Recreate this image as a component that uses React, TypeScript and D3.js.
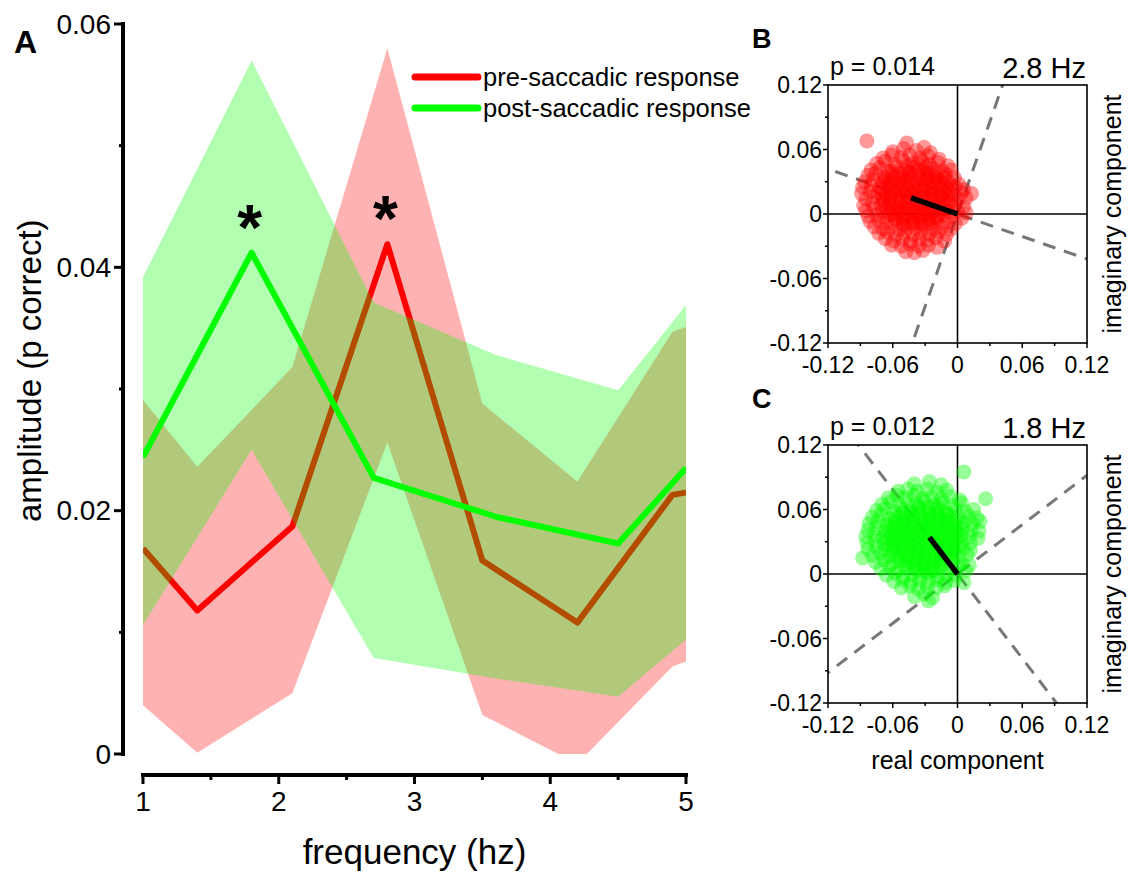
import React from "react";
import * as d3 from "d3";

// ---- panel A: amplitude spectra ----
const redFreq = [1.0, 1.4, 2.1, 2.8, 3.5, 4.2, 4.9, 5.0];
const redMean = [0.0169, 0.0118, 0.0187, 0.0419, 0.0159, 0.0108, 0.0213, 0.0215];
const redUpper = [0.0291, 0.0236, 0.0318, 0.058, 0.0288, 0.0224, 0.0347, 0.0351];
const redLower = [0.004, 0.0001, 0.005, 0.0256, 0.0032, -0.0008, 0.0072, 0.0076];

const greenFreq = [1.0, 1.8, 2.7, 3.6, 4.5, 5.0];
const greenMean = [0.0244, 0.0412, 0.0227, 0.0195, 0.0173, 0.0235];
const greenUpper = [0.0392, 0.057, 0.0371, 0.0328, 0.0299, 0.0369];
const greenLower = [0.0106, 0.025, 0.0079, 0.0062, 0.0047, 0.0094];

const ampTicks = [0, 0.02, 0.04, 0.06];
const ampMinor = [0.01, 0.03, 0.05];
const freqTicks = [1, 2, 3, 4, 5];
const freqMinor = [1.5, 2.5, 3.5, 4.5];
const starFreqs = [1.8, 2.8];
const legendLabels = ["pre-saccadic response", "post-saccadic response"];

// ---- panels B and C: complex plane ----
const cTicks = [-0.12, -0.06, 0, 0.06, 0.12];
const cMinor = [-0.09, -0.03, 0.03, 0.09];

const redMeanVector = [-0.043, 0.015];
const greenMeanVector = [-0.026, 0.034];

const redCloud = [
  [-0.084,0.068],[-0.047,0.066],[-0.031,0.062],
  [-0.060,0.058],[-0.050,0.061],[-0.038,0.059],[-0.025,0.057],
  [-0.069,0.052],[-0.061,0.055],[-0.052,0.053],[-0.044,0.055],[-0.035,0.052],[-0.027,0.054],[-0.017,0.051],
  [-0.075,0.047],[-0.067,0.049],[-0.058,0.046],[-0.050,0.049],[-0.042,0.047],[-0.033,0.049],[-0.026,0.046],[-0.018,0.048],[-0.009,0.045],
  [-0.080,0.041],[-0.072,0.043],[-0.064,0.040],[-0.057,0.043],[-0.048,0.041],[-0.040,0.043],[-0.031,0.040],[-0.023,0.042],[-0.014,0.040],[-0.006,0.041],
  [-0.083,0.036],[-0.076,0.038],[-0.068,0.035],[-0.060,0.037],[-0.051,0.035],[-0.044,0.038],[-0.036,0.036],[-0.028,0.037],[-0.020,0.035],[-0.011,0.037],[-0.003,0.034],
  [-0.086,0.030],[-0.078,0.032],[-0.070,0.030],[-0.063,0.031],[-0.055,0.029],[-0.047,0.032],[-0.039,0.030],[-0.031,0.032],[-0.024,0.029],[-0.016,0.031],[-0.008,0.030],[0.001,0.028],
  [-0.088,0.025],[-0.080,0.027],[-0.072,0.024],[-0.064,0.026],[-0.057,0.025],[-0.049,0.027],[-0.041,0.024],[-0.033,0.026],[-0.025,0.025],[-0.018,0.027],[-0.010,0.024],[-0.002,0.025],[0.006,0.023],
  [-0.089,0.019],[-0.081,0.021],[-0.074,0.020],[-0.066,0.018],[-0.058,0.021],[-0.050,0.019],[-0.043,0.020],[-0.035,0.018],[-0.027,0.021],[-0.020,0.019],[-0.012,0.020],[-0.004,0.018],[0.004,0.020],[0.013,0.019],
  [-0.085,0.014],[-0.077,0.016],[-0.069,0.013],[-0.062,0.015],[-0.054,0.014],[-0.046,0.016],[-0.038,0.013],[-0.031,0.015],[-0.023,0.014],[-0.015,0.016],[-0.007,0.013],[0.001,0.014],[0.008,0.015],
  [-0.087,0.008],[-0.079,0.010],[-0.071,0.008],[-0.064,0.009],[-0.056,0.007],[-0.048,0.010],[-0.041,0.008],[-0.033,0.009],[-0.025,0.007],[-0.017,0.010],[-0.010,0.008],[-0.002,0.009],[0.006,0.007],
  [-0.085,0.003],[-0.077,0.005],[-0.070,0.002],[-0.062,0.004],[-0.054,0.003],[-0.047,0.005],[-0.039,0.002],[-0.031,0.004],[-0.023,0.003],[-0.016,0.005],[-0.008,0.002],[0.000,0.003],[0.008,0.001],
  [-0.083,-0.002],[-0.075,-0.001],[-0.068,-0.003],[-0.060,-0.001],[-0.052,-0.003],[-0.044,-0.001],[-0.037,-0.002],[-0.029,0.000],[-0.021,-0.003],[-0.013,-0.001],[-0.005,-0.002],[0.004,-0.004],
  [-0.081,-0.007],[-0.073,-0.006],[-0.065,-0.008],[-0.057,-0.006],[-0.050,-0.009],[-0.042,-0.007],[-0.034,-0.008],[-0.026,-0.006],[-0.018,-0.008],[-0.010,-0.007],[-0.002,-0.009],
  [-0.077,-0.012],[-0.069,-0.014],[-0.061,-0.012],[-0.053,-0.014],[-0.046,-0.012],[-0.038,-0.013],[-0.030,-0.011],[-0.022,-0.014],[-0.014,-0.012],[-0.006,-0.014],
  [-0.073,-0.018],[-0.065,-0.017],[-0.057,-0.019],[-0.049,-0.017],[-0.041,-0.019],[-0.034,-0.017],[-0.026,-0.019],[-0.018,-0.017],[-0.010,-0.019],
  [-0.067,-0.023],[-0.059,-0.025],[-0.051,-0.023],[-0.043,-0.025],[-0.035,-0.023],[-0.028,-0.024],[-0.020,-0.022],[-0.012,-0.025],
  [-0.061,-0.029],[-0.052,-0.030],[-0.044,-0.028],[-0.036,-0.030],[-0.027,-0.029],[-0.019,-0.031],
  [-0.048,-0.035],[-0.040,-0.036],[-0.032,-0.034],
  [-0.046,0.045],[-0.037,0.046],[-0.029,0.044],
  [-0.061,0.040],[-0.053,0.038],[-0.045,0.039],[-0.036,0.040],[-0.027,0.039],[-0.019,0.038],
  [-0.066,0.033],[-0.058,0.034],[-0.050,0.033],[-0.043,0.034],[-0.034,0.033],[-0.027,0.034],[-0.019,0.033],[-0.012,0.034],
  [-0.068,0.028],[-0.061,0.029],[-0.053,0.028],[-0.045,0.029],[-0.037,0.028],[-0.029,0.028],[-0.021,0.029],[-0.013,0.028],[-0.006,0.027],
  [-0.070,0.022],[-0.062,0.023],[-0.054,0.022],[-0.046,0.023],[-0.039,0.022],[-0.031,0.023],[-0.023,0.022],[-0.016,0.023],[-0.008,0.022],
  [-0.070,0.017],[-0.062,0.017],[-0.055,0.018],[-0.047,0.017],[-0.040,0.018],[-0.032,0.017],[-0.024,0.018],[-0.016,0.017],[-0.009,0.018],
  [-0.068,0.011],[-0.061,0.012],[-0.053,0.011],[-0.045,0.012],[-0.037,0.011],[-0.029,0.012],[-0.021,0.011],[-0.013,0.012],[-0.006,0.011],
  [-0.066,0.006],[-0.058,0.005],[-0.050,0.006],[-0.043,0.005],[-0.035,0.006],[-0.027,0.005],[-0.020,0.006],[-0.012,0.005],
  [-0.063,0.000],[-0.055,0.001],[-0.048,0.000],[-0.040,0.001],[-0.032,0.000],[-0.025,0.001],[-0.017,0.000],
  [-0.058,-0.005],[-0.050,-0.004],[-0.042,-0.005],[-0.035,-0.004],[-0.027,-0.005],[-0.019,-0.004],
  [-0.050,-0.010],[-0.041,-0.009],[-0.033,-0.010],[-0.025,-0.009],
];

const greenCloud = [
  [0.006,0.095],[-0.040,0.084],[-0.026,0.086],[-0.015,0.083],
  [-0.055,0.077],[-0.046,0.079],[-0.037,0.077],[-0.028,0.079],[-0.019,0.076],[-0.010,0.078],
  [-0.064,0.071],[-0.056,0.073],[-0.048,0.071],[-0.040,0.073],[-0.032,0.070],[-0.024,0.072],[-0.015,0.070],[-0.007,0.072],[0.002,0.069],
  [-0.070,0.065],[-0.062,0.067],[-0.054,0.064],[-0.046,0.066],[-0.038,0.065],[-0.030,0.067],[-0.022,0.064],[-0.014,0.066],[-0.005,0.064],[0.004,0.066],[0.026,0.070],
  [-0.075,0.059],[-0.067,0.061],[-0.059,0.058],[-0.051,0.060],[-0.043,0.059],[-0.035,0.061],[-0.027,0.058],[-0.019,0.060],[-0.011,0.058],[-0.002,0.060],[0.007,0.058],[0.015,0.060],
  [-0.079,0.053],[-0.071,0.055],[-0.063,0.052],[-0.055,0.054],[-0.047,0.053],[-0.039,0.055],[-0.031,0.052],[-0.023,0.054],[-0.015,0.052],[-0.007,0.055],[0.001,0.053],[0.010,0.054],[0.018,0.052],
  [-0.082,0.047],[-0.074,0.049],[-0.066,0.046],[-0.058,0.048],[-0.050,0.047],[-0.042,0.049],[-0.034,0.046],[-0.026,0.048],[-0.018,0.047],[-0.010,0.049],[-0.002,0.046],[0.006,0.048],[0.014,0.047],[0.021,0.049],
  [-0.083,0.041],[-0.075,0.043],[-0.067,0.040],[-0.059,0.042],[-0.051,0.041],[-0.043,0.043],[-0.035,0.040],[-0.027,0.042],[-0.019,0.041],[-0.011,0.043],[-0.003,0.040],[0.005,0.042],[0.013,0.041],[0.020,0.040],
  [-0.085,0.035],[-0.077,0.037],[-0.069,0.034],[-0.061,0.036],[-0.053,0.035],[-0.045,0.037],[-0.037,0.034],[-0.029,0.036],[-0.021,0.035],[-0.013,0.037],[-0.005,0.034],[0.003,0.036],[0.011,0.035],[0.019,0.033],
  [-0.084,0.029],[-0.076,0.031],[-0.068,0.028],[-0.060,0.030],[-0.052,0.029],[-0.044,0.031],[-0.036,0.028],[-0.028,0.030],[-0.020,0.029],[-0.012,0.031],[-0.004,0.028],[0.004,0.030],[0.012,0.029],
  [-0.083,0.023],[-0.075,0.025],[-0.067,0.022],[-0.059,0.024],[-0.051,0.023],[-0.043,0.025],[-0.035,0.022],[-0.027,0.024],[-0.019,0.023],[-0.011,0.025],[-0.003,0.022],[0.005,0.024],[0.012,0.022],
  [-0.088,0.015],[-0.079,0.017],[-0.071,0.019],[-0.063,0.016],[-0.055,0.018],[-0.047,0.017],[-0.039,0.019],[-0.031,0.016],[-0.023,0.018],[-0.015,0.017],[-0.007,0.019],[0.001,0.016],[0.009,0.018],
  [-0.076,0.011],[-0.068,0.013],[-0.060,0.010],[-0.052,0.012],[-0.044,0.011],[-0.036,0.013],[-0.028,0.010],[-0.020,0.012],[-0.012,0.011],[-0.004,0.013],[0.004,0.010],[0.011,0.008],
  [-0.071,0.005],[-0.063,0.007],[-0.055,0.004],[-0.047,0.006],[-0.039,0.005],[-0.031,0.007],[-0.023,0.004],[-0.015,0.006],[-0.007,0.005],[0.001,0.007],[0.008,0.003],
  [-0.066,-0.001],[-0.058,0.001],[-0.050,-0.002],[-0.042,0.000],[-0.034,-0.001],[-0.026,0.001],[-0.018,-0.002],[-0.010,0.000],[-0.002,-0.001],[0.006,-0.008],
  [-0.059,-0.007],[-0.051,-0.005],[-0.043,-0.008],[-0.035,-0.006],[-0.027,-0.007],[-0.019,-0.005],[-0.011,-0.008],[-0.003,-0.006],
  [-0.052,-0.013],[-0.044,-0.011],[-0.036,-0.014],[-0.028,-0.012],[-0.020,-0.013],[-0.012,-0.011],
  [-0.040,-0.021],[-0.031,-0.019],[-0.023,-0.022],[-0.027,-0.025],
  [-0.036,0.063],[-0.027,0.062],[-0.018,0.063],
  [-0.051,0.057],[-0.043,0.056],[-0.035,0.057],[-0.026,0.056],[-0.018,0.057],[-0.010,0.056],
  [-0.058,0.051],[-0.050,0.050],[-0.042,0.051],[-0.034,0.050],[-0.026,0.051],[-0.018,0.050],[-0.010,0.051],[-0.003,0.050],
  [-0.062,0.045],[-0.054,0.044],[-0.046,0.045],[-0.038,0.044],[-0.030,0.045],[-0.022,0.044],[-0.014,0.045],[-0.006,0.044],[0.001,0.045],
  [-0.064,0.039],[-0.056,0.038],[-0.048,0.039],[-0.040,0.038],[-0.032,0.039],[-0.024,0.038],[-0.016,0.039],[-0.008,0.038],[0.000,0.039],
  [-0.065,0.033],[-0.057,0.032],[-0.049,0.033],[-0.041,0.032],[-0.033,0.033],[-0.025,0.032],[-0.017,0.033],[-0.009,0.032],[-0.001,0.033],
  [-0.063,0.027],[-0.055,0.026],[-0.047,0.027],[-0.039,0.026],[-0.031,0.027],[-0.023,0.026],[-0.015,0.027],[-0.007,0.026],[0.001,0.027],
  [-0.060,0.021],[-0.052,0.020],[-0.044,0.021],[-0.036,0.020],[-0.028,0.021],[-0.020,0.020],[-0.012,0.021],[-0.004,0.020],
  [-0.055,0.015],[-0.047,0.014],[-0.039,0.015],[-0.031,0.014],[-0.023,0.015],[-0.015,0.014],[-0.007,0.015],
  [-0.048,0.009],[-0.040,0.008],[-0.032,0.009],[-0.024,0.008],[-0.016,0.009],
  [-0.037,0.003],[-0.029,0.002],[-0.021,0.003],
];

const FONT = "'Liberation Sans', Arial, Helvetica, sans-serif";

const fmt = (v: number) => (v === 0 ? "0" : v.toFixed(2));

function PolarPanel({ top, cloud, color, mean, pLabel, hzLabel, letter, showReal }: any) {
  const sx = d3.scaleLinear().domain([-0.12, 0.12]).range([828, 1087]);
  const sy = d3.scaleLinear().domain([-0.12, 0.12]).range([top + 258, top]);
  const ang = Math.atan2(mean[1], mean[0]);
  const c = Math.cos(ang);
  const s = Math.sin(ang);
  const R = 0.3;
  const clipId = "clip-" + letter;
  const x0 = sx(-0.12), x1 = sx(0.12), y0 = sy(0.12), y1 = sy(-0.12);

  return (
    <g>
      <defs>
        <clipPath id={clipId}>
          <rect x={x0} y={y0} width={x1 - x0} height={y1 - y0} />
        </clipPath>
      </defs>
      <text x={752} y={top - 37} fontSize={27} fontWeight="bold" fontFamily={FONT}>{letter}</text>
      <text x={830} y={top - 10} fontSize={25} fontFamily={FONT}>{pLabel}</text>
      <text x={1086} y={top - 7} fontSize={29} fontFamily={FONT} textAnchor="end">{hzLabel}</text>

      <g clipPath={`url(#${clipId})`}>
        <line x1={sx(-R * c)} y1={sy(-R * s)} x2={sx(R * c)} y2={sy(R * s)}
          stroke="#777" strokeWidth={3} strokeDasharray="13 9" />
        <line x1={sx(R * s)} y1={sy(-R * c)} x2={sx(-R * s)} y2={sy(R * c)}
          stroke="#777" strokeWidth={3} strokeDasharray="13 9" />
        <line x1={x0} x2={x1} y1={sy(0)} y2={sy(0)} stroke="#000" strokeWidth={1.6} />
        <line x1={sx(0)} x2={sx(0)} y1={y0} y2={y1} stroke="#000" strokeWidth={1.6} />
        {cloud.map((d: number[], i: number) => (
          <circle key={i} cx={sx(d[0])} cy={sy(d[1])} r={7.5} fill={color} fillOpacity={0.4} />
        ))}
        <line x1={sx(0)} y1={sy(0)} x2={sx(mean[0])} y2={sy(mean[1])} stroke="#000" strokeWidth={5.5} />
      </g>

      <rect x={x0} y={y0} width={x1 - x0} height={y1 - y0} fill="none" stroke="#000" strokeWidth={1.6} />

      {cTicks.map((t) => (
        <g key={"y" + t}>
          <line x1={x0 - 5} x2={x0} y1={sy(t)} y2={sy(t)} stroke="#000" strokeWidth={1.5} />
          <text x={x0 - 6} y={sy(t)} dy="0.35em" textAnchor="end" fontSize={23} fontFamily={FONT}>{fmt(t)}</text>
          <line x1={sx(t)} x2={sx(t)} y1={y1} y2={y1 + 5} stroke="#000" strokeWidth={1.5} />
          <text x={sx(t)} y={y1 + 30} textAnchor="middle" fontSize={23} fontFamily={FONT}>{fmt(t)}</text>
        </g>
      ))}
      {cMinor.map((t) => (
        <g key={"m" + t}>
          <line x1={x0 - 3} x2={x0} y1={sy(t)} y2={sy(t)} stroke="#000" strokeWidth={1.5} />
          <line x1={sx(t)} x2={sx(t)} y1={y1} y2={y1 + 3} stroke="#000" strokeWidth={1.5} />
        </g>
      ))}
      <text transform={`translate(1121,${sy(0)}) rotate(-90)`} textAnchor="middle" fontSize={25} fontFamily={FONT}>
        imaginary component
      </text>
      {showReal && (
        <text x={sx(0)} y={y1 + 66} textAnchor="middle" fontSize={25} fontFamily={FONT}>real component</text>
      )}
    </g>
  );
}

export default function App() {
  const x = d3.scaleLinear().domain([1, 5]).range([143, 686]);
  const y = d3.scaleLinear().domain([0, 0.06]).range([754, 24]);

  const redRows = redFreq.map((f, i) => ({ f, m: redMean[i], lo: redLower[i], hi: redUpper[i] }));
  const greenRows = greenFreq.map((f, i) => ({ f, m: greenMean[i], lo: greenLower[i], hi: greenUpper[i] }));

  const band = d3.area<any>().x((d) => x(d.f)).y0((d) => y(d.lo)).y1((d) => y(d.hi));
  const meanLine = d3.line<any>().x((d) => x(d.f)).y((d) => y(d.m));

  const starY = [d3.max(greenMean)!, d3.max(redMean)!];

  return (
    <svg width={1131} height={874} style={{ position: "absolute", left: 0, top: 0, background: "#fff" }}>
      <defs>
        <clipPath id="clipA">
          <rect x={x(1)} y={y(0.06)} width={x(5) - x(1)} height={y(0) - y(0.06)} />
        </clipPath>
      </defs>

      <text x={14} y={53} fontSize={32} fontWeight="bold" fontFamily={FONT}>A</text>

      <g clipPath="url(#clipA)">
        <path d={band(redRows)!} fill="#ff0000" fillOpacity={0.3} />
        <path d={meanLine(redRows)!} fill="none" stroke="#ff0000" strokeWidth={6} strokeLinejoin="round" />
        <path d={band(greenRows)!} fill="#00ff00" fillOpacity={0.3} />
        <path d={meanLine(greenRows)!} fill="none" stroke="#00ff00" strokeWidth={6} strokeLinejoin="round" />
      </g>

      {starFreqs.map((f, i) => (
        <text key={f} x={x(f) - 2} y={y(starY[i]) - 3} textAnchor="middle" fontSize={64} fontWeight="bold" fontFamily={FONT}>*</text>
      ))}

      {/* legend */}
      <line x1={415} x2={478} y1={77} y2={77} stroke="#ff0000" strokeWidth={7} strokeLinecap="round" />
      <text x={483} y={86} fontSize={25.5} fontFamily={FONT}>{legendLabels[0]}</text>
      <line x1={415} x2={478} y1={108} y2={108} stroke="#00ff00" strokeWidth={7} strokeLinecap="round" />
      <text x={483} y={117} fontSize={25.5} fontFamily={FONT}>{legendLabels[1]}</text>

      {/* y axis */}
      <line x1={123} x2={123} y1={y(0.06) - 2} y2={y(0) + 2} stroke="#000" strokeWidth={4} />
      {ampTicks.map((t) => (
        <g key={t}>
          <line x1={114} x2={123} y1={y(t)} y2={y(t)} stroke="#000" strokeWidth={3} />
          <text x={111} y={y(t)} dy="0.35em" textAnchor="end" fontSize={28} fontFamily={FONT}>{fmt(t)}</text>
        </g>
      ))}
      {ampMinor.map((t) => (
        <line key={t} x1={119} x2={123} y1={y(t)} y2={y(t)} stroke="#000" strokeWidth={3} />
      ))}
      <text transform={`translate(41,${y(0.0315)}) rotate(-90)`} textAnchor="middle" fontSize={33} fontFamily={FONT}>
        amplitude (p correct)
      </text>

      {/* x axis */}
      <line x1={x(1) - 2} x2={x(5) + 2} y1={775} y2={775} stroke="#000" strokeWidth={4} />
      {freqTicks.map((t) => (
        <g key={t}>
          <line x1={x(t)} x2={x(t)} y1={775} y2={784} stroke="#000" strokeWidth={3} />
          <text x={x(t)} y={811} textAnchor="middle" fontSize={28} fontFamily={FONT}>{t}</text>
        </g>
      ))}
      {freqMinor.map((t) => (
        <line key={t} x1={x(t)} x2={x(t)} y1={775} y2={780} stroke="#000" strokeWidth={3} />
      ))}
      <text x={(x(1) + x(5)) / 2} y={864} textAnchor="middle" fontSize={35} fontFamily={FONT}>frequency (hz)</text>

      <PolarPanel top={85} cloud={redCloud} color="#ff0000" mean={redMeanVector}
        pLabel="p = 0.014" hzLabel="2.8 Hz" letter="B" showReal={false} />
      <PolarPanel top={445} cloud={greenCloud} color="#00ff00" mean={greenMeanVector}
        pLabel="p = 0.012" hzLabel="1.8 Hz" letter="C" showReal={true} />
    </svg>
  );
}
